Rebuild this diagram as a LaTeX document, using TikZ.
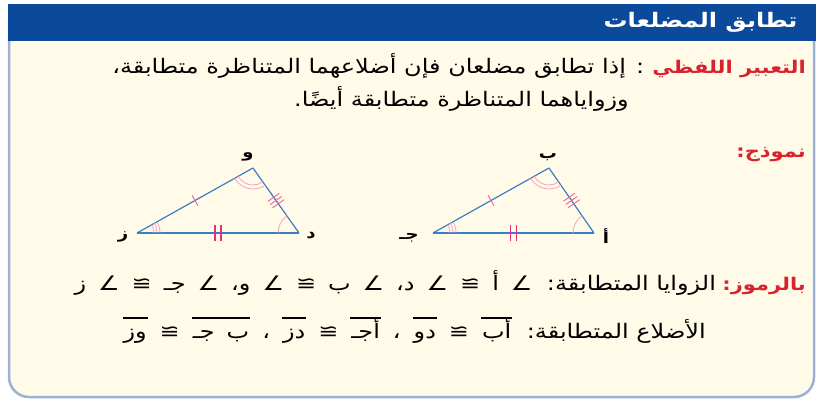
\documentclass[tikz,border=0pt]{standalone}
\usepackage{fontspec}
\usetikzlibrary{angles,decorations.markings}
\setmainfont{DejaVu Sans}
\newfontfamily\arabicfont[Script=Arabic, FakeStretch=1.2]{DejaVu Sans}
\TeXXeTstate=1
\definecolor{headblue}{HTML}{0B4A9B}
\definecolor{boxcream}{HTML}{FFFBE8}
\definecolor{boxedge}{HTML}{9CB0D8}
\definecolor{labelred}{HTML}{D8232E}
\definecolor{sideblue}{HTML}{3C7DC4}
\definecolor{arcpink}{HTML}{F4A3C2}
\definecolor{tickpink}{HTML}{EC6E9F}
\definecolor{barpink}{HTML}{E4307C}
\newcommand{\artext}[1]{{\arabicfont\beginR #1\endR}}
\newcommand{\segname}[1]{\vbox{\hrule height 2.2pt\kern 4pt\hbox{\kern1pt\vrule width 0pt height 15pt\smash{\beginR #1\endR}\kern1pt}}}
\newcommand{\widespaces}{\spaceskip=12pt plus 1pt minus 1pt\relax}
\newcommand{\plainspaces}{\spaceskip=0pt\relax}

\begin{document}
\begin{tikzpicture}[x=1pt,y=1pt,>=latex,
  bodytext/.style={font=\fontsize{20}{24}\selectfont, inner sep=0pt, anchor=base east},
  symboltext/.style={font=\fontsize{20}{24}\selectfont\widespaces, inner sep=0pt, anchor=base east},
  redlabel/.style={font=\fontsize{17.5}{20}\selectfont\bfseries, text=labelred, inner sep=0pt, anchor=base east},
  vertexlbl/.style={font=\fontsize{15}{18}\selectfont\bfseries, inner sep=0pt},
  sideline/.style={draw=sideblue, line width=1.2pt},
  baseside/.style={draw=sideblue, line width=2pt},
  anglearc/.style={draw=arcpink, line width=0.8pt},
  onetick/.style={postaction={decorate,decoration={markings,
    mark=at position .5 with {\draw[tickpink,line width=1pt] (0,-6) -- (0,6);}}}},
  threetick/.style={postaction={decorate,decoration={markings,
    mark=at position .5 with {\draw[tickpink,line width=1pt] (-4,-7) -- (-4,7) (0,-7) -- (0,7) (4,-7) -- (4,7);}}}},
  twotick/.style={postaction={decorate,decoration={markings,
    mark=at position .5 with {\draw[barpink,line width=1.8pt] (-3,-8) -- (-3,8) (3,-8) -- (3,8);}}}}]

\useasboundingbox (0,0) rectangle (821,-403);

\fill[boxcream, rounded corners=20] (9,-20) -- (9,-397) -- (814,-397) -- (814,-20) -- cycle;
\draw[boxedge, line width=2.5pt, rounded corners=20] (9,-20) -- (9,-397) -- (814,-397) -- (814,-20);
\fill[headblue] (8,-4) rectangle (816,-41);

\node[font=\fontsize{20}{22}\selectfont\bfseries, text=white, anchor=east] (title) at (801,-22) {\artext{تطابق المضلعات}};

\node[redlabel] (verbal) at (806,-74) {\artext{التعبير اللفظي}};
\node[bodytext] (verbaltext) at (verbal.base west) {\artext{ : إذا تطابق مضلعان فإن أضلاعهما المتناظرة متطابقة،}};
\node[bodytext] (verbalmore) at (629,-107) {\artext{وزواياهما المتناظرة متطابقة أيضًا.}};

\node[redlabel] (model) at (806,-158) {\artext{نموذج:}};

\coordinate (z) at (137,-233);
\coordinate (d) at (299,-233);
\coordinate (w) at (253,-168);
\coordinate (j) at (433,-233);
\coordinate (a) at (594,-233);
\coordinate (b) at (549,-168);

\draw[sideline, onetick] (z) -- (w);
\draw[sideline, threetick] (w) -- (d);
\draw[baseside, twotick] (z) -- (d);
\draw[sideline, onetick] (j) -- (b);
\draw[sideline, threetick] (b) -- (a);
\draw[baseside, twotick] (j) -- (a);

\pic[anglearc, angle radius=17pt] {angle = d--z--w};
\pic[anglearc, angle radius=20pt] {angle = d--z--w};
\pic[anglearc, angle radius=23pt] {angle = d--z--w};
\pic[anglearc, angle radius=17pt] {angle = z--w--d};
\pic[anglearc, angle radius=21pt] {angle = z--w--d};
\pic[anglearc, angle radius=21pt] {angle = w--d--z};
\pic[anglearc, angle radius=17pt] {angle = a--j--b};
\pic[anglearc, angle radius=20pt] {angle = a--j--b};
\pic[anglearc, angle radius=23pt] {angle = a--j--b};
\pic[anglearc, angle radius=17pt] {angle = j--b--a};
\pic[anglearc, angle radius=21pt] {angle = j--b--a};
\pic[anglearc, angle radius=21pt] {angle = b--a--j};

\node[vertexlbl] (lz) at (123,-237) {\artext{ز}};
\node[vertexlbl] (ld) at (311,-236) {\artext{د}};
\node[vertexlbl] (lw) at (248,-157) {\artext{و}};
\node[vertexlbl] (lj) at (409,-238) {\artext{جـ}};
\node[vertexlbl] (la) at (606,-236) {\artext{أ}};
\node[vertexlbl] (lb) at (548,-157) {\artext{ب}};

\node[redlabel] (symbols) at (806,-290) {\artext{بالرموز:}};
\node[symboltext] (angles) at ([xshift=-6pt]symbols.base west) {\artext{{\plainspaces الزوايا المتطابقة:} ∠ أ ≅ ∠ د، ∠ ب ≅ ∠ و، ∠ جـ ≅ ∠ ز}};
\node[symboltext] (sides) at (706,-338) {\artext{{\plainspaces الأضلاع المتطابقة:} \segname{أب} ≅ \segname{دو} ، \segname{أجـ} ≅ \segname{دز} ، \segname{ب جـ} ≅ \segname{وز}}};

\end{tikzpicture}
\end{document}
